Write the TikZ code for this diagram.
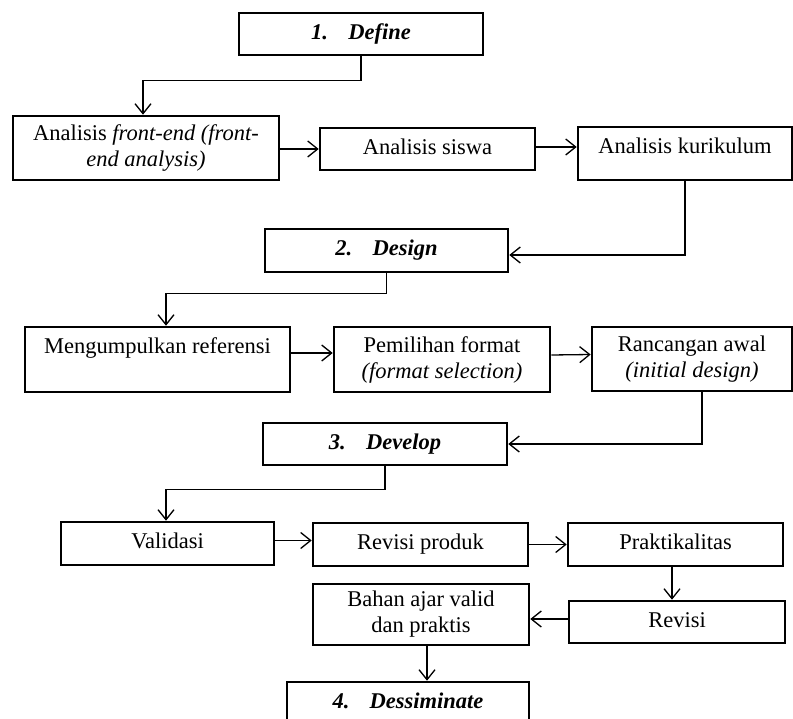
\documentclass[tikz,border=0pt]{standalone}
\usepackage{fontspec}
\setmainfont{Liberation Serif}
\usetikzlibrary{arrows.meta}

\begin{document}
\begin{tikzpicture}[
  x=1pt, y=-1pt,
  blk/.style={draw, line width=2.6pt, inner sep=0pt, align=center},
  one/.style={text height=15.3pt, text depth=#1},
  one/.default=5pt,
  phase/.style={blk, one, font=\fontsize{22.5}{26}\selectfont\bfseries\itshape},
  arr/.style={-{Straight Barb[length=10pt,width=16pt]}, line width=1.3pt},
  font=\fontsize{22.5}{26}\selectfont,
]
\useasboundingbox (0,0) rectangle (793,719);

% ============ 1. Define ============
\node[phase, minimum width=244pt, minimum height=42pt] (define) at (361,34)
  {1.\hspace{0.9em}Define};
\node[blk, minimum width=266pt, minimum height=64pt] (frontend) at (146,148)
  {Analisis \textit{front-end (front-}\\\textit{end analysis)}};
\node[blk, one, minimum width=215pt, minimum height=42pt] (siswa) at (427.5,149)
  {Analisis siswa};
\node[blk, one=16pt, minimum width=214pt, minimum height=53pt] (kurikulum) at (685,153.5)
  {Analisis kurikulum};

\draw[arr] (define.south) -- ++(0,24) -| ([xshift=-3pt]frontend.north);
\draw[arr] (frontend.east |- siswa.west) -- (siswa.west);
\draw[arr] ([yshift=2pt]siswa.east) -- ([yshift=2pt]siswa.east -| kurikulum.west);

% ============ 2. Design ============
\node[phase, minimum width=243pt, minimum height=43pt] (design) at (386.5,250.5)
  {2.\hspace{0.9em}Design};
\node[blk, one=27pt, minimum width=265pt, minimum height=65pt] (referensi) at (157.5,359.5)
  {Mengumpulkan referensi};
\node[blk, minimum width=216pt, minimum height=65pt] (format) at (442,359.5)
  {Pemilihan format\\\textit{(format selection)}};
\node[blk, minimum width=200pt, minimum height=64pt] (awal) at (692,359)
  {Rancangan awal\\\textit{(initial design)}};

\draw[arr] (kurikulum.south) |- ([yshift=-4.5pt]design.east);
\draw[arr] (design.south) -- ++(0,20) -| ([xshift=8.5pt]referensi.north);
\draw[arr] ([yshift=6.5pt]referensi.east) -- ([yshift=6.5pt]format.west);
\draw[arr] ([yshift=4.5pt]format.east) -- ([yshift=4.5pt]awal.west);

% ============ 3. Develop ============
\node[phase, minimum width=244pt, minimum height=42pt] (develop) at (385,444)
  {3.\hspace{0.9em}Develop};
\node[blk, one=6pt, minimum width=213pt, minimum height=43pt] (validasi) at (167.5,543.5)
  {Validasi};
\node[blk, one, minimum width=215pt, minimum height=43pt] (produk) at (420.5,544.5)
  {Revisi produk};
\node[blk, one, minimum width=215pt, minimum height=43pt] (praktis) at (675.5,544.5)
  {Praktikalitas};
\node[blk, one, minimum width=216pt, minimum height=42pt] (revisi) at (677,622)
  {Revisi};
\node[blk, minimum width=216pt, minimum height=61pt] (bahan) at (421,614.5)
  {Bahan ajar valid\\dan praktis};

\draw[arr] ([xshift=10pt]awal.south) |- (develop.east);
\draw[arr] (develop.south) -- ++(0,23) -| ([xshift=-1.5pt]validasi.north);
\draw[arr] ([yshift=3pt]validasi.east) -- ([yshift=3pt]validasi.east -| produk.west);
\draw[arr] (produk.east) -- (praktis.west);
\draw[arr] ([xshift=-3.5pt]praktis.south) -- ([xshift=-3.5pt]praktis.south |- revisi.north);
\draw[arr] ([yshift=3pt]revisi.west) -- ([yshift=3pt]revisi.west -| bahan.east);

% ============ 4. Dessiminate ============
\node[phase, minimum width=242pt, minimum height=42pt] (dessiminate) at (408,703)
  {4.\hspace{0.9em}Dessiminate};

\draw[arr] ([xshift=6pt]bahan.south) -- ([xshift=6pt]bahan.south |- dessiminate.north);

\end{tikzpicture}
\end{document}
